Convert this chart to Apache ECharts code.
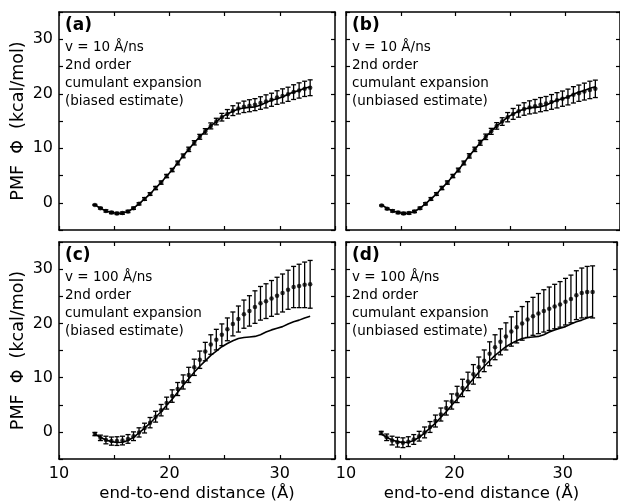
<!DOCTYPE html>
<html>
<head>
<meta charset="utf-8">
<script src="https://cdn.jsdelivr.net/npm/echarts@6/dist/echarts.min.js"></script>
<style>
  html, body { margin: 0; padding: 0; background: #fff; }
  #chart { width: 620px; height: 503px; }
</style>
</head>
<body>
<div id="chart"></div>
<script>
// end-to-end distance bins (Å)
const xVals = [13.25, 13.75, 14.25, 14.75, 15.25, 15.75, 16.25, 16.75, 17.25, 17.75,
  18.25, 18.75, 19.25, 19.75, 20.25, 20.75, 21.25, 21.75, 22.25, 22.75,
  23.25, 23.75, 24.25, 24.75, 25.25, 25.75, 26.25, 26.75, 27.25, 27.75,
  28.25, 28.75, 29.25, 29.75, 30.25, 30.75, 31.25, 31.75, 32.25, 32.75];

// reference PMF (solid line)
const refPmf = [-0.4, -1.0, -1.5, -1.8, -1.95, -1.9, -1.6, -1.0, -0.2, 0.7,
  1.6, 2.7, 3.7, 4.9, 6.0, 7.3, 8.6, 9.8, 11.0, 12.1,
  13.1, 14.1, 14.9, 15.7, 16.3, 16.8, 17.2, 17.4, 17.5, 17.6,
  17.9, 18.4, 18.8, 19.1, 19.4, 19.9, 20.3, 20.6, 21.0, 21.3];

// (a) v = 10 Å/ns, biased
const pmfA = [-0.4, -1.0, -1.5, -1.8, -1.95, -1.9, -1.6, -1.0, -0.2, 0.7,
  1.6, 2.7, 3.7, 4.9, 6.0, 7.3, 8.6, 9.8, 11.0, 12.1,
  13.1, 14.1, 14.9, 15.7, 16.3, 16.9, 17.3, 17.6, 17.8, 18.0,
  18.3, 18.6, 18.9, 19.3, 19.6, 19.9, 20.3, 20.6, 20.9, 21.1];
const errA = [0.1, 0.15, 0.2, 0.2, 0.2, 0.2, 0.2, 0.2, 0.2, 0.25,
  0.25, 0.3, 0.3, 0.3, 0.3, 0.35, 0.35, 0.4, 0.4, 0.45,
  0.5, 0.55, 0.6, 0.7, 0.8, 0.9, 1.0, 1.05, 1.1, 1.1,
  1.15, 1.2, 1.2, 1.25, 1.3, 1.3, 1.35, 1.4, 1.4, 1.45];

// (b) v = 10 Å/ns, unbiased
const pmfB = [-0.5, -1.1, -1.5, -1.8, -1.95, -1.9, -1.6, -1.0, -0.2, 0.7,
  1.6, 2.7, 3.7, 4.9, 6.0, 7.3, 8.6, 9.8, 11.0, 12.1,
  13.1, 14.1, 14.9, 15.7, 16.3, 16.8, 17.2, 17.5, 17.7, 18.0,
  18.2, 18.5, 18.8, 19.1, 19.4, 19.8, 20.1, 20.4, 20.7, 20.9];
const errB = [0.1, 0.15, 0.2, 0.2, 0.2, 0.2, 0.2, 0.2, 0.2, 0.25,
  0.25, 0.3, 0.3, 0.3, 0.35, 0.35, 0.4, 0.4, 0.45, 0.5,
  0.55, 0.6, 0.7, 0.85, 1.0, 1.1, 1.15, 1.2, 1.25, 1.3,
  1.3, 1.35, 1.4, 1.4, 1.45, 1.5, 1.5, 1.55, 1.6, 1.6];

// (c) v = 100 Å/ns, biased
const pmfC = [-0.4, -1.1, -1.5, -1.7, -1.7, -1.6, -1.3, -0.8, -0.1, 0.7,
  1.7, 2.8, 4.0, 5.3, 6.6, 7.9, 9.2, 10.5, 11.9, 13.3,
  14.8, 16.1, 17.0, 17.9, 18.9, 19.9, 20.8, 21.7, 22.3, 23.0,
  23.7, 24.1, 24.6, 25.1, 25.6, 26.2, 26.7, 26.9, 27.1, 27.2];
const errC = [0.3, 0.5, 0.7, 0.75, 0.8, 0.8, 0.8, 0.8, 0.85, 0.9,
  0.95, 1.0, 1.05, 1.1, 1.15, 1.2, 1.3, 1.4, 1.5, 1.6,
  1.7, 1.8, 1.9, 2.0, 2.1, 2.2, 2.4, 2.6, 2.8, 3.0,
  3.1, 3.2, 3.3, 3.4, 3.5, 3.6, 3.8, 4.0, 4.2, 4.4];

// (d) v = 100 Å/ns, unbiased
const pmfD = [-0.2, -1.0, -1.6, -1.9, -2.0, -1.8, -1.4, -0.8, -0.1, 0.9,
  2.0, 3.2, 4.4, 5.6, 6.9, 8.1, 9.3, 10.6, 11.9, 13.1,
  14.4, 15.6, 16.6, 17.6, 18.5, 19.3, 20.0, 20.7, 21.3, 21.8,
  22.3, 22.7, 23.1, 23.5, 24.0, 24.5, 25.2, 25.6, 25.8, 25.8];
const errD = [0.3, 0.6, 0.8, 0.9, 0.9, 0.9, 0.9, 0.9, 1.0, 1.0,
  1.1, 1.2, 1.3, 1.4, 1.5, 1.6, 1.7, 1.8, 1.9, 2.0,
  2.2, 2.3, 2.4, 2.5, 2.7, 2.9, 3.1, 3.3, 3.5, 3.7,
  3.9, 4.0, 4.1, 4.2, 4.3, 4.4, 4.5, 4.6, 4.7, 4.8];

const panelLabels = ["(a)", "(b)", "(c)", "(d)"];
const panelNotes = [
  "v = 10 Å/ns\n2nd order\ncumulant expansion\n(biased estimate)",
  "v = 10 Å/ns\n2nd order\ncumulant expansion\n(unbiased estimate)",
  "v = 100 Å/ns\n2nd order\ncumulant expansion\n(biased estimate)",
  "v = 100 Å/ns\n2nd order\ncumulant expansion\n(unbiased estimate)"
];
const xTitle = "end-to-end distance (Å)";
const yTitle = "PMF  Φ  (kcal/mol)";

const panels = [
  { pmf: pmfA, err: errA, left: 59, top: 12 },
  { pmf: pmfB, err: errB, left: 346, top: 12 },
  { pmf: pmfC, err: errC, left: 59, top: 242 },
  { pmf: pmfD, err: errD, left: 346, top: 242 }
];

const FONT = "DejaVu Sans";
const black = "#000";

const chart = echarts.init(document.getElementById("chart"));

const grids = [];
const xAxes = [];
const yAxes = [];
const series = [];
const graphics = [];

function renderErr(params, api) {
  const x = api.value(0);
  const y = api.value(1);
  const e = api.value(2);
  const top = api.coord([x, y + e]);
  const bot = api.coord([x, y - e]);
  const w = 2.5;
  const st = { stroke: black, lineWidth: 1.3 };
  return {
    type: "group",
    children: [
      { type: "line", shape: { x1: top[0], y1: top[1], x2: bot[0], y2: bot[1] }, style: st },
      { type: "line", shape: { x1: top[0] - w, y1: top[1], x2: top[0] + w, y2: top[1] }, style: st },
      { type: "line", shape: { x1: bot[0] - w, y1: bot[1], x2: bot[0] + w, y2: bot[1] }, style: st }
    ]
  };
}

panels.forEach((p, i) => {
  const bottomRow = i >= 2;
  const leftCol = i % 2 === 0;
  grids.push({ left: p.left, top: p.top, width: 276, height: 218 });

  const axisLine = { show: true, onZero: false, lineStyle: { color: black, width: 1.5 } };
  const axisTick = { show: true, inside: true, length: 4, lineStyle: { color: black, width: 1.2 } };

  xAxes.push({
    type: "value", gridIndex: i, position: "bottom",
    min: 10, max: 35, interval: 5,
    axisLine, axisTick, splitLine: { show: false },
    axisLabel: {
      show: bottomRow, color: black, fontFamily: FONT, fontSize: 16, margin: 7,
      formatter: (v) => (v % 10 === 0 && v < 35 ? String(v) : "")
    },
    name: bottomRow ? xTitle : "", nameLocation: "middle", nameGap: 26,
    nameTextStyle: { color: black, fontFamily: FONT, fontSize: 16.5 }
  });
  xAxes.push({
    type: "value", gridIndex: i, position: "top",
    min: 10, max: 35, interval: 5,
    axisLine, axisTick, splitLine: { show: false }, axisLabel: { show: false }
  });

  yAxes.push({
    type: "value", gridIndex: i, position: "left",
    min: -5, max: 35, interval: 5,
    axisLine, axisTick, splitLine: { show: false },
    axisLabel: {
      show: leftCol, color: black, fontFamily: FONT, fontSize: 16, margin: 6,
      formatter: (v) => (v % 10 === 0 ? String(v) : "")
    },
    name: leftCol ? yTitle : "", nameLocation: "middle", nameGap: 32,
    nameTextStyle: { color: black, fontFamily: FONT, fontSize: 17.5 }
  });
  yAxes.push({
    type: "value", gridIndex: i, position: "right",
    min: -5, max: 35, interval: 5,
    axisLine, axisTick, splitLine: { show: false }, axisLabel: { show: false }
  });

  const xi = i * 2;
  const yi = i * 2;

  series.push({
    type: "line", xAxisIndex: xi, yAxisIndex: yi,
    data: xVals.map((x, k) => [x, refPmf[k]]),
    showSymbol: false, symbol: "none", silent: true,
    lineStyle: { color: black, width: 1.6 }, z: 2
  });
  series.push({
    type: "custom", xAxisIndex: xi, yAxisIndex: yi,
    data: xVals.map((x, k) => [x, p.pmf[k], p.err[k]]),
    encode: { x: 0, y: 1 },
    renderItem: renderErr, silent: true, z: 3
  });
  series.push({
    type: "scatter", xAxisIndex: xi, yAxisIndex: yi,
    data: xVals.map((x, k) => [x, p.pmf[k]]),
    symbol: "circle", symbolSize: 4.5,
    itemStyle: { color: black }, silent: true, z: 4
  });

  graphics.push({
    type: "text", left: p.left + 6, top: p.top + 5,
    style: { text: panelLabels[i], font: "bold 17px " + FONT, fill: black }
  });
  graphics.push({
    type: "text", left: p.left + 6, top: p.top + 26,
    style: { text: panelNotes[i], font: "13.5px " + FONT, fill: black, lineHeight: 18 }
  });
});

chart.setOption({
  backgroundColor: "#fff",
  animation: false,
  grid: grids,
  xAxis: xAxes,
  yAxis: yAxes,
  series: series,
  graphic: graphics
});
</script>
</body>
</html>
